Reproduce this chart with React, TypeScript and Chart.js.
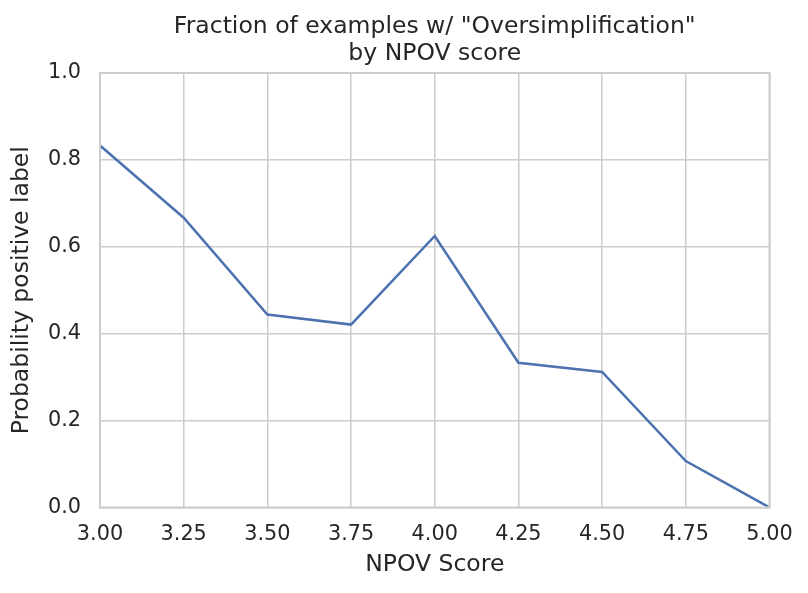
import React, { useEffect, useRef } from "react";
import { Chart, registerables } from "chart.js";

Chart.register(...registerables);

const npovScores = [3.0, 3.25, 3.5, 3.75, 4.0, 4.25, 4.5, 4.75, 5.0];
const probPositive = [0.833, 0.667, 0.444, 0.421, 0.625, 0.333, 0.312, 0.107, 0.0];
const titleLines = ['Fraction of examples w/ "Oversimplification"', "by NPOV score"];
const xLabel = "NPOV Score";
const yLabel = "Probability positive label";

const FONT = "'DejaVu Sans', sans-serif";
const TEXT = "#262626";
const GRID = "#cccccc";

export default function App() {
  const ref = useRef<HTMLCanvasElement | null>(null);
  useEffect(() => {
    document.body.style.margin = "0";
    const canvas = ref.current!;
    const framePlugin = {
      id: "frame",
      afterDatasetsDraw(chart: any) {
        const { ctx, chartArea } = chart;
        ctx.save();
        ctx.strokeStyle = GRID;
        ctx.lineWidth = 2;
        ctx.strokeRect(chartArea.left, chartArea.top, chartArea.right - chartArea.left, chartArea.bottom - chartArea.top);
        ctx.restore();
      },
      afterDraw(chart: any) {
        const { ctx, chartArea } = chart;
        ctx.save();
        ctx.fillStyle = TEXT;
        ctx.font = `23.5px ${FONT}`;
        ctx.textAlign = "center";
        ctx.textBaseline = "alphabetic";
        const cx = (chartArea.left + chartArea.right) / 2;
        ctx.fillText(titleLines[0], cx, 33);
        ctx.fillText(titleLines[1], cx, 60);
        ctx.restore();
      },
    };
    const chart = new Chart(canvas, {
      type: "line",
      data: {
        datasets: [
          {
            data: npovScores.map((x, i) => ({ x, y: probPositive[i] })),
            borderColor: "#4c72b0",
            borderWidth: 2.5,
            pointRadius: 0,
            tension: 0,
            fill: false,
          },
        ],
      },
      options: {
        animation: false,
        responsive: false,
        devicePixelRatio: 1,
        layout: { padding: { top: 73, right: 38.5, left: 0, bottom: 0 } },
        plugins: { legend: { display: false }, tooltip: { enabled: false }, title: { display: false } },
        scales: {
          x: {
            type: "linear",
            min: 3,
            max: 5,
            afterFit: (s: any) => { s.height = 85.5; },
            ticks: {
              stepSize: 0.25,
              callback: (v: any) => Number(v).toFixed(2),
              color: TEXT,
              font: { family: FONT, size: 20.8 },
              padding: 15,
              maxRotation: 0,
              autoSkip: false,
            },
            grid: { color: GRID, lineWidth: 1.5, drawTicks: false },
            border: { display: false },
            title: { display: true, text: xLabel, color: TEXT, font: { family: FONT, size: 23.5 }, padding: { top: 4, bottom: 14 } },
          },
          y: {
            type: "linear",
            min: 0,
            max: 1,
            afterFit: (s: any) => { s.width = 100; },
            ticks: {
              stepSize: 0.2,
              callback: (v: any) => Number(v).toFixed(1),
              color: TEXT,
              font: { family: FONT, size: 20.8 },
              padding: 19,
            },
            grid: { color: GRID, lineWidth: 1.5, drawTicks: false },
            border: { display: false },
            title: { display: true, text: yLabel, color: TEXT, font: { family: FONT, size: 23.5 }, padding: { top: 8, bottom: 0 } },
          },
        },
      },
      plugins: [framePlugin],
    });
    return () => chart.destroy();
  }, []);
  return <canvas ref={ref} width={808} height={593} style={{ display: "block" }} />;
}
